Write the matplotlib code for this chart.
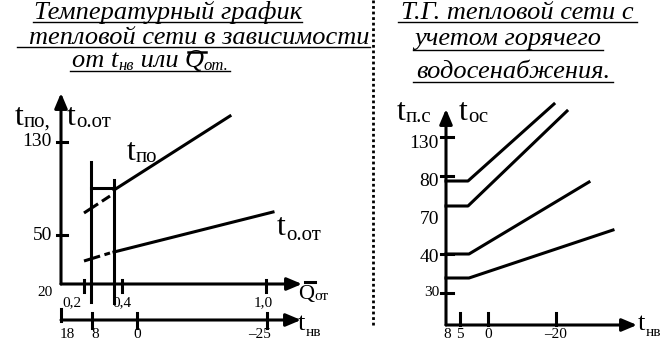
import matplotlib

matplotlib.use("Agg")

import matplotlib.pyplot as plt

SERIF = "Liberation Serif"
INK = "black"
LW = 2.2

# schematic coordinates (pixels, y grows downward)
# left panel
L_YAXIS = (61, 284, 93)          # x, y bottom, y tip
L_QAXIS = (61, 302, 284)         # x start, x tip, y
L_TAXIS = (61, 301, 320)         # x start, x tip, y
L_YTICK_Y = [142, 235]
L_YTICK_LABELS = ["130", "50"]
L_QTICK_X = [84, 122, 266]
L_QTICK_LABELS = ["0,2", "0,4", "1,0"]
L_TTICK_X = [61, 92, 137, 267]
L_TTICK_LABELS = ["18", "8", "0", "\u201325"]
L_VLINES_X = [91, 114]
L_VLINES_TOP = [162, 180]
L_VLINES_BOTTOM = [302, 303]
L_SHELF_X = [91, 114]
L_SHELF_Y = [188, 188]
L_TPO_X = [114, 230]
L_TPO_Y = [190, 116]
L_TPO_DASH_X = [84, 110]
L_TPO_DASH_Y = [213, 196]
L_TOT_X = [114, 273]
L_TOT_Y = [252, 212]
L_TOT_DASH_X = [84, 110]
L_TOT_DASH_Y = [261, 253]

# right panel
R_YAXIS = (446, 325, 109)
R_XAXIS = (446, 637, 325)
R_YTICK_Y = [137, 176, 254, 293]
R_YLABELS = ["130", "80", "70", "40", "30"]
R_YLABEL_Y = [143, 182, 220, 258, 293]
R_XTICK_X = [460, 488, 556]
R_XLABELS = ["8", "5", "0", "\u201320"]
R_XLABEL_X = [447, 460, 488, 556]
R_LINES_X = [[446, 468, 554], [446, 468, 567], [446, 469, 589], [446, 469, 613]]
R_LINES_Y = [[181, 181, 104], [206, 206, 111], [254, 254, 182], [278, 278, 230]]

SEP_X = 373
TITLE_SIZE = 19

fig = plt.figure(figsize=(6.67, 3.57), dpi=100, facecolor="white")
ax = fig.add_axes([0, 0, 1, 1])
ax.set_xlim(0, 667)
ax.set_ylim(357, 0)
ax.axis("off")
renderer = fig.canvas.get_renderer()


def txt(x, y, s, size, ha="left", va="baseline", style="normal"):
    return ax.text(x, y, s, fontsize=size, ha=ha, va=va, color=INK, family=SERIF, fontstyle=style)


def width(t):
    # axes spans the whole figure 1:1, so pixel width == data width
    return t.get_window_extent(renderer).width


def chain(x, y, pieces, style="normal"):
    """pieces: (text, size, dy); returns list of (x_left, x_right) per piece"""
    spans = []
    for s, size, dy in pieces:
        t = txt(x, y + dy, s, size, style=style)
        w = width(t)
        spans.append((x, x + w))
        x += w
    return spans


def tsym(x, y, sub, size=23, subsize=15, sub_dy=2):
    chain(x, y, [("t", size, 0), (sub, subsize, sub_dy)])


def arrow(x0, y0, x1, y1):
    ax.annotate("", xy=(x1, y1), xytext=(x0, y0),
                arrowprops=dict(arrowstyle="-|>,head_length=0.9,head_width=0.38", color=INK,
                                lw=LW, shrinkA=0, shrinkB=0, mutation_scale=10))


# ---- titles ----
txt(168, 19, "Температурный график", TITLE_SIZE, ha="center", style="italic")
ax.plot([33, 302], [21.5, 21.5], color=INK, lw=1)
txt(199, 44, "тепловой сети в зависимости", TITLE_SIZE, ha="center", style="italic")
ax.plot([17, 370], [46.5, 46.5], color=INK, lw=1)
spans = chain(72, 67, [("от ", TITLE_SIZE, 0), ("t", TITLE_SIZE, 0), ("нв", 12, 3),
                       (" или ", TITLE_SIZE, 0), ("Q", TITLE_SIZE, 0), ("от.", 12, 3)],
              style="italic")
qx0, qx1 = spans[4]
ax.plot([qx0 + 3, qx1 + 2], [52, 52], color=INK, lw=1.8)
ax.plot([70, max(230, spans[-1][1])], [71, 71], color=INK, lw=1)

txt(517, 19, "Т.Г. тепловой сети с", TITLE_SIZE, ha="center", style="italic")
ax.plot([398, 637], [21.5, 21.5], color=INK, lw=1)
txt(508, 45, "учетом горячего", TITLE_SIZE, ha="center", style="italic")
ax.plot([413, 603], [50, 50], color=INK, lw=1)
txt(513, 78, "водосенабжения.", TITLE_SIZE, ha="center", style="italic")
ax.plot([413, 613], [82, 82], color=INK, lw=1)

# separator
ax.plot([SEP_X, SEP_X], [0, 327], color=INK, lw=2, linestyle=(0, (1, 1)))

# ---- left panel ----
arrow(L_YAXIS[0], L_YAXIS[1], L_YAXIS[0], L_YAXIS[2])
arrow(L_QAXIS[0], L_QAXIS[2], L_QAXIS[1], L_QAXIS[2])
arrow(L_TAXIS[0], L_TAXIS[2], L_TAXIS[1], L_TAXIS[2])

for y, lab in zip(L_YTICK_Y, L_YTICK_LABELS):
    ax.plot([57, 67], [y, y], color=INK, lw=LW)
    txt(52, y, lab, 14, ha="right", va="center")
txt(53, 292, "20", 11, ha="right", va="center")

for x, lab, xl in zip(L_QTICK_X, L_QTICK_LABELS, [72, 122, 263]):
    ax.plot([x, x], [280, 292], color=INK, lw=LW)
    txt(xl, 303, lab, 11, ha="center", va="center")

ax.plot([L_TTICK_X[0], L_TTICK_X[0]], [309, 321], color=INK, lw=LW)
for x in L_TTICK_X[1:]:
    ax.plot([x, x], [313, 328], color=INK, lw=LW)
for x, lab in zip([67, 95, 137, 260], L_TTICK_LABELS):
    txt(x, 335, lab, 11, ha="center", va="center")

for x, y0, y1 in zip(L_VLINES_X, L_VLINES_TOP, L_VLINES_BOTTOM):
    ax.plot([x, x], [y0, y1], color=INK, lw=LW)
ax.plot(L_SHELF_X, L_SHELF_Y, color=INK, lw=LW)
ax.plot(L_TPO_X, L_TPO_Y, color=INK, lw=LW)
ax.plot(L_TOT_X, L_TOT_Y, color=INK, lw=LW)
ax.plot(L_TPO_DASH_X, L_TPO_DASH_Y, color=INK, lw=LW, dashes=(5.5, 1.5))
ax.plot(L_TOT_DASH_X, L_TOT_DASH_Y, color=INK, lw=LW, dashes=(5.5, 1.5))

tsym(15, 125, "по,")
tsym(67, 125, "о.от")
tsym(127, 160, "по")
tsym(277, 235, "о.от", sub_dy=5)
txt(298, 299, "Q", 16)
ax.plot([305, 315], [282, 282], color=INK, lw=LW)
txt(314, 300, "от", 11)
tsym(298, 330, "нв", size=19, subsize=11, sub_dy=6)

# ---- right panel ----
arrow(R_YAXIS[0], R_YAXIS[1], R_YAXIS[0], R_YAXIS[2])
arrow(R_XAXIS[0], R_XAXIS[2], R_XAXIS[1], R_XAXIS[2])

for y in R_YTICK_Y:
    ax.plot([441, 453], [y, y], color=INK, lw=LW)
for lab, y in zip(R_YLABELS, R_YLABEL_Y):
    size = 11 if lab == "30" else 14
    txt(439, y, lab, size, ha="right", va="center")

for x in R_XTICK_X:
    ax.plot([x, x], [313, 325], color=INK, lw=LW)
for x, lab in zip(R_XLABEL_X, R_XLABELS):
    txt(x, 335, lab, 11, ha="center", va="center")

for xs, ys in zip(R_LINES_X, R_LINES_Y):
    ax.plot(xs, ys, color=INK, lw=LW)

tsym(397, 120, "п.с")
tsym(459, 120, "ос")
tsym(638, 330, "нв", size=19, subsize=11, sub_dy=6)

fig.savefig("out.png", dpi=100, facecolor="white")
